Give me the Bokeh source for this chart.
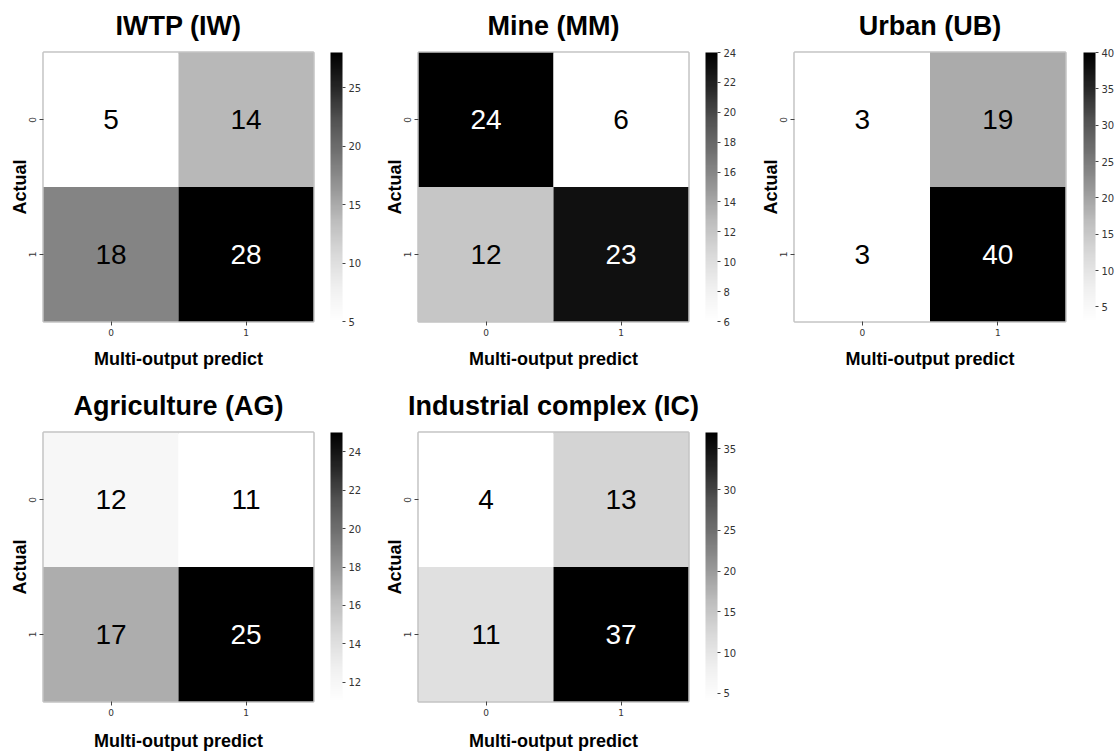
from bokeh.plotting import figure
from bokeh.models import ColumnDataSource, LinearColorMapper, ColorBar, FixedTicker
from bokeh.layouts import row, column
from bokeh.palettes import Greys9
from bokeh.embed import file_html
from bokeh.resources import INLINE
from bokeh.core.properties import value

# ---- data ----
actual_labels = ["0", "1"]
pred_labels = ["0", "1"]
x_label = "Multi-output predict"
y_label = "Actual"

titles = ["IWTP (IW)", "Mine (MM)", "Urban (UB)", "Agriculture (AG)", "Industrial complex (IC)"]

# row-major: (actual 0, pred 0), (actual 0, pred 1), (actual 1, pred 0), (actual 1, pred 1)
iw_values = [5, 14, 18, 28]
mm_values = [24, 6, 12, 23]
ub_values = [3, 19, 3, 40]
ag_values = [12, 11, 17, 25]
ic_values = [4, 13, 11, 37]

iw_ticks = [5, 10, 15, 20, 25]
mm_ticks = [6, 8, 10, 12, 14, 16, 18, 20, 22, 24]
ub_ticks = [5, 10, 15, 20, 25, 30, 35, 40]
ag_ticks = [12, 14, 16, 18, 20, 22, 24]
ic_ticks = [5, 10, 15, 20, 25, 30, 35]


def make_palette(n=256):
    base = list(reversed(Greys9))  # white -> black
    rgb = [tuple(int(c[i:i + 2], 16) for i in (1, 3, 5)) for c in base]
    out = []
    for k in range(n):
        t = k / (n - 1) * (len(rgb) - 1)
        i = min(int(t), len(rgb) - 2)
        f = t - i
        c = tuple(int(round(rgb[i][j] * (1 - f) + rgb[i + 1][j] * f)) for j in range(3))
        out.append("#%02x%02x%02x" % c)
    return out


PAL = make_palette()
FONT = "Liberation Sans"
TICK_FONT = "DejaVu Sans"


def panel(title, vals, ticks, bl, br, bt, bb, fw=270, fh=269, cb_gap=17,
          xl_standoff=10, t_standoff=20):
    xs = [pred_labels[0], pred_labels[1], pred_labels[0], pred_labels[1]]
    ys = [actual_labels[0], actual_labels[0], actual_labels[1], actual_labels[1]]
    lo, hi = min(vals), max(vals)
    tc = ["white" if (v - lo) / (hi - lo) > 0.6 else "black" for v in vals]
    src = ColumnDataSource(dict(x=xs, y=ys, v=vals, t=[str(v) for v in vals], tc=tc))
    mapper = LinearColorMapper(palette=PAL, low=lo, high=hi)

    p = figure(x_range=pred_labels, y_range=list(reversed(actual_labels)),
               frame_width=fw, frame_height=fh,
               min_border_left=bl, min_border_right=br,
               min_border_top=bt, min_border_bottom=bb,
               output_backend="svg", toolbar_location=None,
               title=title, x_axis_label=x_label, y_axis_label=y_label)
    p.rect("x", "y", 1, 1, source=src, fill_color={"field": "v", "transform": mapper},
           line_color=None)
    p.text("x", "y", text="t", source=src, text_color="tc",
           text_font=value(FONT), text_font_size="28px",
           text_align="center", text_baseline="middle")

    p.grid.visible = False
    p.outline_line_color = "#c4c4c4"
    p.outline_line_width = 2.5
    p.background_fill_color = "white"
    p.border_fill_color = "white"

    p.title.text_font = FONT
    p.title.text_font_size = "27px"
    p.title.text_font_style = "bold"
    p.title.align = "center"
    p.title.text_color = "black"
    p.title.vertical_align = "top"
    p.title.standoff = t_standoff

    for ax in (p.xaxis[0], p.yaxis[0]):
        ax.axis_line_color = None
        ax.major_tick_line_color = "#444444"
        ax.major_tick_out = 4
        ax.major_tick_in = 0
        ax.minor_tick_line_color = None
        ax.major_label_text_font = TICK_FONT
        ax.major_label_text_font_size = "9px"
        ax.major_label_text_color = "#333333"
        ax.axis_label_text_font = FONT
        ax.axis_label_text_font_size = "18px"
        ax.axis_label_text_font_style = "bold"
        ax.axis_label_text_color = "black"
    p.xaxis[0].major_label_standoff = 3
    p.xaxis[0].axis_label_standoff = xl_standoff
    p.yaxis[0].major_label_standoff = 4
    p.yaxis[0].axis_label_standoff = -4
    p.yaxis[0].major_label_orientation = "vertical"

    cb = ColorBar(color_mapper=mapper, ticker=FixedTicker(ticks=ticks),
                  width=12, height=fh, padding=0, margin=0,
                  location=(fw + cb_gap, 0),
                  major_tick_out=3, major_tick_in=0,
                  major_tick_line_color="#444444",
                  minor_tick_line_color=None,
                  bar_line_color=None,
                  major_label_text_font=TICK_FONT,
                  major_label_text_font_size="10px",
                  major_label_text_color="#333333",
                  label_standoff=3,
                  background_fill_alpha=0, border_line_color=None)
    p.add_layout(cb, "center")
    return p


p1 = panel(titles[0], iw_values, iw_ticks, 43, 60, 52, 55)
p2 = panel(titles[1], mm_values, mm_ticks, 45, 60, 52, 55)
p3 = panel(titles[2], ub_values, ub_ticks, 46, 50, 52, 55, fw=271, cb_gap=18)
p4 = panel(titles[3], ag_values, ag_ticks, 43, 60, 56, 52, xl_standoff=12)
p5 = panel(titles[4], ic_values, ic_ticks, 45, 60, 56, 52, xl_standoff=12)

layout = column(row(p1, p2, p3), row(p4, p5))

open("out.html", "w").write(file_html(layout, INLINE))
